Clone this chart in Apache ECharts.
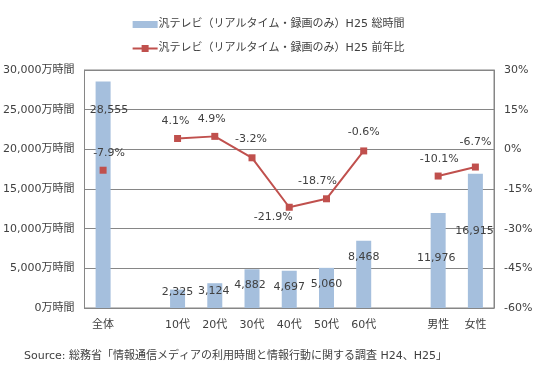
<!DOCTYPE html>
<html>
<head>
<meta charset="utf-8">
<script src="https://cdn.jsdelivr.net/npm/echarts@6/dist/echarts.min.js"></script>
<style>html,body{margin:0;padding:0;background:#fff}#c{width:537px;height:369px}</style>
</head>
<body>
<div id="c"></div>
<script>
var categories = ['全体', '', '10代', '20代', '30代', '40代', '50代', '60代', '', '男性', '女性'];
var totalHours = [28555, null, 2325, 3124, 4882, 4697, 5060, 8468, null, 11976, 16915];
var yoyPct = [-7.9, null, 4.1, 4.9, -3.2, -21.9, -18.7, -0.6, null, -10.1, -6.7];
var leftTicks = { min: 0, max: 30000, interval: 5000 };
var rightTicks = { min: -60, max: 30, interval: 15 };
var barName = '汎テレビ（リアルタイム・録画のみ）H25 総時間';
var lineName = '汎テレビ（リアルタイム・録画のみ）H25 前年比';

// label layout tweaks (offsets from mark centre, px)
var barLabelOffset = [[6,-85],null,[0,-7],[-1,-4],[-2,-3],[0,-2],[0,-4],[0,-17],null,[-2,-2],[-1,-10]];
var lineLabelOffset = [[6,-17],null,[-2,-17],[-3,-17],[-1,-19],[-16,10],[-9,-18],[0,-19],null,[1,-17],[0,-25]];

var FONT = "'DejaVu Sans','Noto Sans CJK JP',sans-serif";
var TXT = '#404040';
function fmtNum(v){ return String(v).replace(/\B(?=(\d{3})+(?!\d))/g, ','); }

var barData = totalHours.map(function(v,i){
  if (v === null) return null;
  return { value: v, label: { offset: barLabelOffset[i] } };
});
var lineData = yoyPct.map(function(v,i){
  if (v === null) return null;
  return { value: v, label: { offset: lineLabelOffset[i] } };
});

var chart = echarts.init(document.getElementById('c'), null, {renderer:'canvas'});
chart.setOption({
  animation: false,
  textStyle: { fontFamily: FONT },
  legend: {
    orient: 'vertical',
    left: 'center',
    top: 14,
    itemGap: 13,
    itemWidth: 25,
    itemHeight: 14,
    textStyle: { fontFamily: FONT, fontSize: 11, color: TXT, padding: [0,0,0,-4] },
    data: [
      { name: barName, icon: 'path://M0,0h25v7h-25z' },
      { name: lineName, icon: 'path://M0,6H9V3.5H16V6H25V8H16V10.5H9V8H0Z' }
    ]
  },
  grid: { left: 82, right: 43, top: 70, bottom: 61, show: true, borderColor: '#868686', borderWidth: 1, containLabel: false },
  xAxis: {
    type: 'category',
    data: categories,
    boundaryGap: true,
    axisTick: { show: false },
    axisLine: { lineStyle: { color: '#868686' } },
    axisLabel: { fontFamily: FONT, fontSize: 11, color: TXT, margin: 12, interval: 0 }
  },
  yAxis: [
    {
      type: 'value', min: leftTicks.min, max: leftTicks.max, interval: leftTicks.interval,
      axisLine: { show: true, lineStyle: { color: '#868686' } },
      axisTick: { show: false },
      splitLine: { lineStyle: { color: '#868686', width: 1 } },
      axisLabel: { fontFamily: FONT, fontSize: 11, color: TXT, margin: 10,
        formatter: function(v){ return fmtNum(v) + '万時間'; } }
    },
    {
      type: 'value', min: rightTicks.min, max: rightTicks.max, interval: rightTicks.interval,
      axisLine: { show: true, lineStyle: { color: '#868686' } },
      axisTick: { show: false },
      splitLine: { show: false },
      axisLabel: { fontFamily: FONT, fontSize: 11, color: TXT, margin: 10,
        formatter: function(v){ return v + '%'; } }
    }
  ],
  series: [
    {
      name: barName, type: 'bar', yAxisIndex: 0, data: barData, barWidth: 15,
      itemStyle: { color: '#a5bfdd' },
      label: { show: true, position: 'inside', fontFamily: FONT, fontSize: 11, color: TXT,
        formatter: function(p){ return fmtNum(p.value); } }
    },
    {
      name: lineName, type: 'line', yAxisIndex: 1, data: lineData, connectNulls: false,
      symbol: 'rect', symbolSize: 7, showAllSymbol: true,
      lineStyle: { color: '#c0504d', width: 2 },
      itemStyle: { color: '#c0504d' },
      label: { show: true, position: 'inside', fontFamily: FONT, fontSize: 11, color: TXT,
        formatter: function(p){ return p.value.toFixed(1) + '%'; } }
    }
  ],
  graphic: [
    { type: 'text', left: 24, top: 351, style: { text: 'Source: 総務省「情報通信メディアの利用時間と情報行動に関する調査 H24、H25」', font: '11px ' + FONT, fill: TXT } }
  ]
});
</script>
</body>
</html>
